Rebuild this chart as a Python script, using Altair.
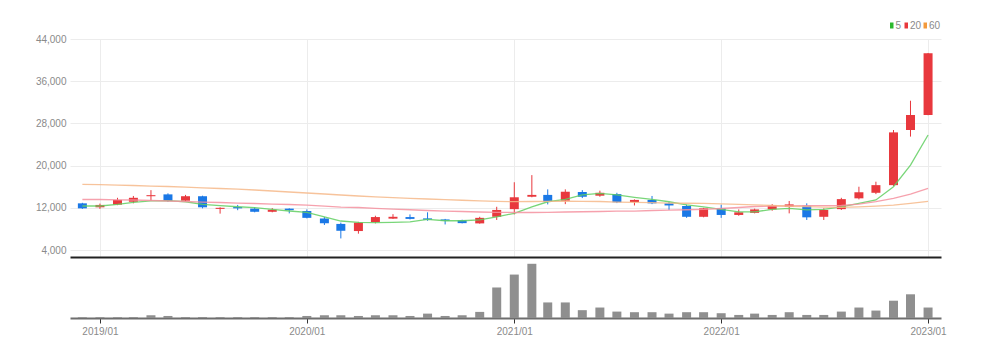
import altair as alt
import pandas as pd

months = [
    "2018-12", "2019-01", "2019-02", "2019-03", "2019-04", "2019-05", "2019-06", "2019-07",
    "2019-08", "2019-09", "2019-10", "2019-11", "2019-12", "2020-01", "2020-02", "2020-03",
    "2020-04", "2020-05", "2020-06", "2020-07", "2020-08", "2020-09", "2020-10", "2020-11",
    "2020-12", "2021-01", "2021-02", "2021-03", "2021-04", "2021-05", "2021-06", "2021-07",
    "2021-08", "2021-09", "2021-10", "2021-11", "2021-12", "2022-01", "2022-02", "2022-03",
    "2022-04", "2022-05", "2022-06", "2022-07", "2022-08", "2022-09", "2022-10", "2022-11",
    "2022-12", "2023-01",
]
opens = [12850, 12100, 12600, 13150, 14200, 14550, 13350, 14200, 11800, 12150, 11850, 11250, 11850,
         11400, 10000, 8950, 7600, 9300, 9950, 10250, 10000, 9800, 9650, 9050, 10300, 11750, 14100,
         14450, 13350, 15000, 14300, 14600, 13100, 13500, 12850, 12350, 10300, 11900, 10650, 11050,
         11700, 12200, 12400, 10300, 11750, 13800, 14850, 16300, 26750, 29600]
highs = [12950, 12800, 13900, 14250, 15350, 14750, 14450, 14300, 12100, 12550, 12100, 11950, 11900,
         11700, 10250, 9200, 9350, 10500, 10800, 10750, 11150, 9900, 9750, 10300, 12200, 16850, 18200,
         15500, 15500, 15350, 15250, 14850, 13600, 14250, 13100, 12600, 12000, 12600, 11700, 11850,
         12700, 13300, 12850, 11900, 13900, 16000, 16950, 26750, 32300, 41350]
lows = [11800, 11800, 12500, 12850, 13300, 13150, 13150, 11900, 10900, 11550, 11150, 11150, 10950,
        10000, 8750, 6200, 7100, 9050, 9900, 9800, 9550, 8850, 9050, 9000, 9700, 10750, 14000,
        12650, 12700, 13850, 14100, 12900, 12450, 12700, 11600, 10100, 10200, 10100, 10500, 10950,
        11450, 10950, 9700, 9700, 11600, 13600, 14600, 16150, 25500, 29550]
closes = [11900, 12550, 13500, 13900, 14400, 13300, 14200, 12100, 12000, 11900, 11250, 11650, 11550,
          10100, 9100, 7650, 9200, 10250, 10300, 9900, 9750, 9550, 9100, 10100, 11600, 14000, 14450,
          13150, 15050, 14100, 14850, 13050, 13500, 12850, 12450, 10300, 11900, 10650, 11150, 11700,
          12450, 12650, 10200, 11600, 13650, 14950, 16300, 26300, 29600, 41300]
volumes = [80, 80, 80, 90, 270, 200, 90, 100, 90, 90, 90, 90, 90, 200, 270, 270, 200, 270, 270, 200,
           430, 200, 270, 600, 3000, 4270, 5330, 1530, 1530, 770, 1030, 630, 570, 570, 430, 570, 570,
           470, 300, 430, 300, 570, 300, 300, 630, 1030, 730, 1700, 2330, 1030]
ma5 = [12350, 12350, 12650, 13050, 13300, 13350, 13150, 12650, 12400, 12200, 12050, 11700, 11400,
       11150, 10300, 9500, 9250, 9200, 9250, 9350, 9800, 9550, 9550, 9700, 10300, 10950, 12200,
       13150, 13600, 14450, 14750, 14450, 14000, 13600, 13150, 12550, 12200, 11700, 11250, 11250,
       11700, 11900, 11600, 11700, 12200, 12850, 13500, 16000, 20100, 25800]
ma20 = [13580, 13580, 13520, 13480, 13390, 13290, 13200, 13100, 13010, 12910, 12820, 12720, 12630,
        12530, 12340, 12150, 12060, 11910, 11770, 11640, 11490, 11390, 11300, 11210, 11150, 11110,
        11110, 11150, 11210, 11260, 11300, 11360, 11390, 11490, 11580, 11640, 11720, 11870, 12060,
        12250, 12340, 12380, 12400, 12400, 12440, 12720, 13160, 13800, 14620, 15700]
ma60 = [16460, 16380, 16300, 16230, 16130, 16040, 15930, 15790, 15660, 15530, 15380, 15190, 15000,
        14810, 14620, 14430, 14240, 14090, 13940, 13800, 13670, 13560, 13440, 13330, 13230, 13160,
        13200, 13230, 13250, 13230, 13200, 13100, 13030, 12970, 12910, 12870, 12850, 12760, 12670,
        12570, 12440, 12300, 12210, 12150, 12100, 12190, 12340, 12530, 12860, 13230]
ma_labels = ["5", "20", "60"]
y_ticks = [4000, 12000, 20000, 28000, 36000, 44000]

RED = "#e8383d"
BLUE = "#1a78e6"
LINE_COLORS = ["#62cf62", "#f4919f", "#f6b98a"]
LEGEND_COLORS = ["#2cb82c", "#e8383d", "#f39a3c"]
FONT = "Liberation Sans Narrow, Liberation Sans, Arial, sans-serif"
FS = 10
LABEL_COLOR = "#8a8a8a"

dates = [m + "-01T00:00:00" for m in months]
df = pd.DataFrame({"date": dates, "open": opens, "high": highs, "low": lows,
                   "close": closes, "volume": volumes})
ma_df = pd.concat([
    pd.DataFrame({"date": dates, "value": ma5, "ma": "5"}),
    pd.DataFrame({"date": dates, "value": ma20, "ma": "20"}),
    pd.DataFrame({"date": dates, "value": ma60, "ma": "60"}),
])

year_vals = [alt.DateTime(year=y, month=1, date=1) for y in range(2019, 2024)]
x_domain = [alt.DateTime(year=2018, month=11, date=18), alt.DateTime(year=2023, month=1, date=15)]
x_scale = alt.Scale(domain=x_domain, nice=False)

W = 871
price_x = alt.X("date:T", scale=x_scale, title=None,
                axis=alt.Axis(values=year_vals, labels=False, ticks=False, domain=True,
                              domainColor="#222222", domainWidth=2, grid=True,
                              gridColor="#ececec"))
price_y = alt.Y("low:Q", scale=alt.Scale(domain=[2680, 44000], nice=False, zero=False), title=None,
                axis=alt.Axis(values=y_ticks, format=",d", ticks=False, domain=False,
                              gridColor="#ececec", labelColor=LABEL_COLOR, labelFont=FONT,
                              labelFontSize=FS, labelPadding=4))
up = alt.datum.close >= alt.datum.open
color = alt.condition(up, alt.value(RED), alt.value(BLUE))

base = alt.Chart(df)
wicks = base.mark_rule(strokeWidth=1).encode(x=price_x, y=price_y, y2="high:Q", color=color)
bodies = base.mark_bar(size=9).encode(x="date:T", y="open:Q", y2="close:Q", color=color)
lines = alt.Chart(ma_df).mark_line(strokeWidth=1.3, opacity=0.85).encode(
    x="date:T", y="value:Q",
    color=alt.Color("ma:N", scale=alt.Scale(domain=ma_labels, range=LINE_COLORS), legend=None),
    detail="ma:N")

one = pd.DataFrame({"k": [0]})
legend_layers = []
rect_x = [820, 834.5, 853.5]
text_x = [825.5, 840, 859]
for lab, col, rx, tx in zip(ma_labels, LEGEND_COLORS, rect_x, text_x):
    legend_layers.append(alt.Chart(one).mark_rect(color=col).encode(
        x=alt.value(rx), x2=alt.value(rx + 3.5), y=alt.value(-16.5), y2=alt.value(-10.5)))
    legend_layers.append(alt.Chart(one).mark_text(
        text=lab, align="left", baseline="middle", font=FONT, fontSize=FS,
        color=LABEL_COLOR).encode(x=alt.value(tx), y=alt.value(-13.5)))

price = alt.layer(wicks, bodies, lines, *legend_layers).properties(width=W, height=218)

volume = alt.Chart(df).mark_bar(size=9, color="#8f8f8f").encode(
    x=alt.X("date:T", scale=x_scale, title=None,
            axis=alt.Axis(values=year_vals, format="%Y/%m", grid=False, domainColor="#6e6e6e",
                          domainWidth=2, tickColor="#333333", tickSize=5, labelColor=LABEL_COLOR,
                          labelFont=FONT, labelFontSize=FS, labelPadding=3)),
    y=alt.Y("volume:Q", axis=None, scale=alt.Scale(domain=[0, 5800], nice=False)),
).properties(width=W, height=59)

chart = alt.vconcat(price, volume, spacing=2).properties(
    padding={"left": 35, "top": 20, "right": 5, "bottom": 5}
).configure_view(stroke=None).resolve_scale(color="independent")

chart.save("out.html", embed_options={"renderer": "svg", "actions": False})
